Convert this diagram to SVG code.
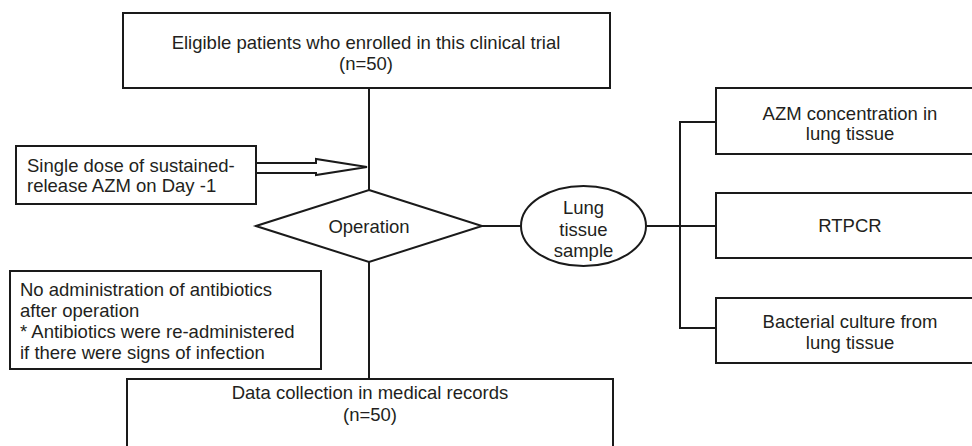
<svg xmlns="http://www.w3.org/2000/svg" width="972" height="446" viewBox="0 0 972 446">
<style>
.box{fill:#fff;stroke:#1a1a1a;stroke-width:2}
.ln{fill:none;stroke:#1a1a1a;stroke-width:2}
text{font-family:"Liberation Sans",Arial,sans-serif;font-size:18.5px;fill:#231f20}
.c{text-anchor:middle}
</style>
<rect width="972" height="446" fill="#fff"/>
<g id="connectors">
<line class="ln" x1="369" y1="88" x2="369" y2="190"/>
<line class="ln" x1="369" y1="262" x2="369" y2="379"/>
<line class="ln" x1="482" y1="226" x2="521" y2="226"/>
<line class="ln" x1="646" y1="226" x2="716" y2="226"/>
<polyline class="ln" points="716,122 680,122 680,328 716,328"/>
<polygon class="box" points="256,163 316,163 316,159 367,167 316,175 316,173 256,173"/>
</g>
<g id="enrolled">
<rect class="box" x="123" y="13" width="487" height="75"/>
<text class="c" x="366" y="49">Eligible patients who enrolled in this clinical trial</text>
<text class="c" x="366" y="70">(n=50)</text>
</g>
<g id="dose">
<rect class="box" x="16" y="146" width="240" height="58"/>
<text x="27" y="171.5">Single dose of sustained-</text>
<text x="27" y="191.5">release AZM on Day -1</text>
</g>
<g id="operation">
<polygon class="box" points="369,190 482,226 369,262 256,226"/>
<text class="c" x="369" y="232.5">Operation</text>
</g>
<g id="sample">
<ellipse class="box" cx="583.5" cy="226" rx="62.5" ry="40"/>
<text class="c" x="583.5" y="213.5">Lung</text>
<text class="c" x="583.5" y="235.5">tissue</text>
<text class="c" x="583.5" y="256.5">sample</text>
</g>
<g id="azm">
<rect class="box" x="716" y="88" width="270" height="66"/>
<text class="c" x="850" y="119.5">AZM concentration in</text>
<text class="c" x="850" y="139.5">lung tissue</text>
</g>
<g id="rtpcr">
<rect class="box" x="716" y="193" width="270" height="65"/>
<text class="c" x="850" y="231.5">RTPCR</text>
</g>
<g id="culture">
<rect class="box" x="716" y="298" width="270" height="65"/>
<text class="c" x="850" y="327.5">Bacterial culture from</text>
<text class="c" x="850" y="348.5">lung tissue</text>
</g>
<g id="noabx">
<rect class="box" x="10" y="271" width="311" height="98"/>
<text x="20" y="295.5">No administration of antibiotics</text>
<text x="20" y="316.5">after operation</text>
<text x="20" y="337.5">* Antibiotics were re-administered</text>
<text x="20" y="358.5">if there were signs of infection</text>
</g>
<g id="data">
<rect class="box" x="127" y="379" width="486" height="80"/>
<text class="c" x="370" y="398.5">Data collection in medical records</text>
<text class="c" x="370" y="420.5">(n=50)</text>
</g>
</svg>
